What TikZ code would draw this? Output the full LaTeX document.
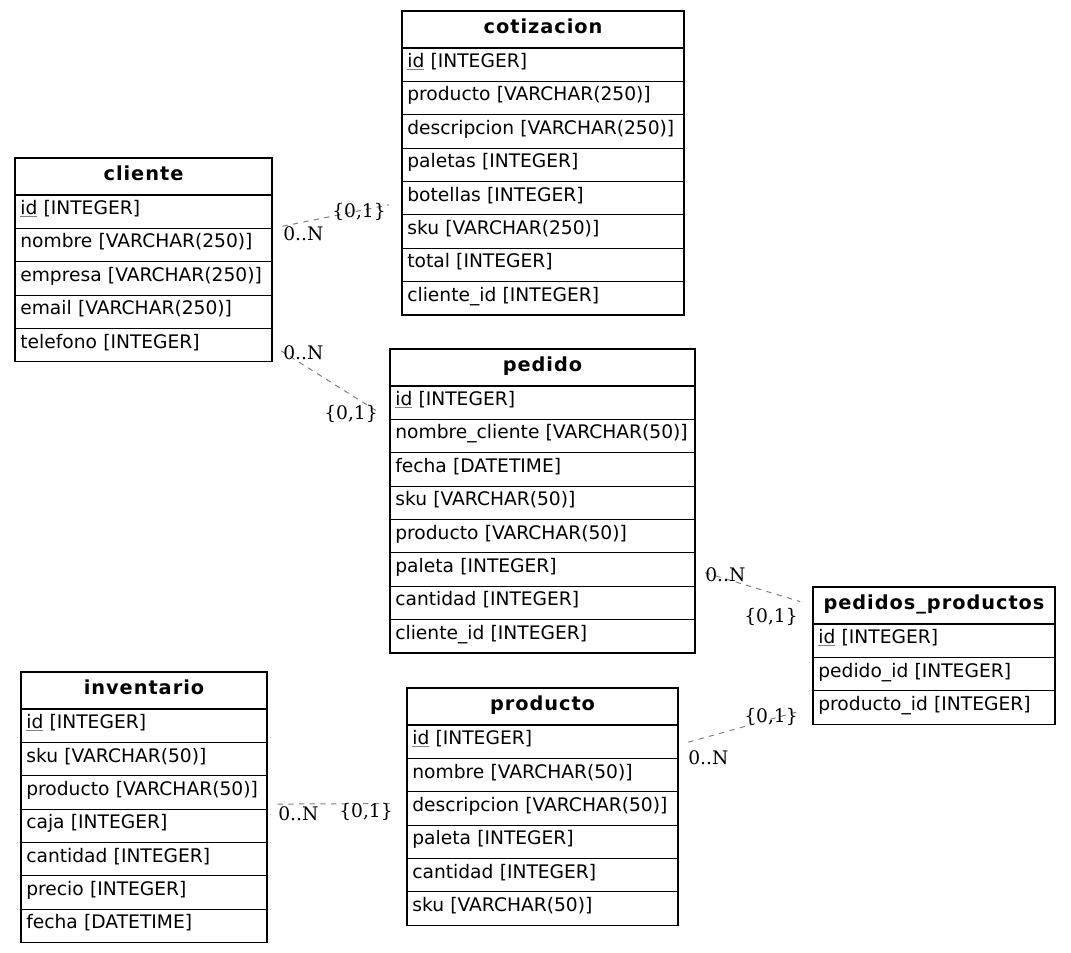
\documentclass[tikz,border=0pt]{standalone}
\usepackage{fontspec}
\setmainfont{DejaVu Sans}
\newfontfamily\cardfont{DejaVu Serif}
\newfontfamily\headfont{DejaVu Sans}[LetterSpace=5]
\usetikzlibrary{calc}

\newcommand{\pk}[1]{\textcolor{gray}{\underline{\textcolor{black}{#1}}}}

\tikzset{
	tabhead/.style={draw, line width=0.9pt, anchor=north west, outer sep=0pt, minimum height=27.75pt, inner sep=0pt, text height=10.6pt, text depth=4.9pt, font=\headfont\fontsize{14.5pt}{16pt}\selectfont\bfseries},
	tabrow/.style={draw, line width=0.9pt, anchor=north west, outer sep=0pt, text width=#1, align=left, minimum height=25.03pt, inner xsep=4pt, inner ysep=0pt, text height=10.6pt, text depth=6.2pt, font=\fontsize{14pt}{16pt}\selectfont},
	relline/.style={gray, line width=0.75pt, dash pattern=on 4pt off 4pt, shorten <=8pt, shorten >=10pt},
	card/.style={inner sep=0pt, font=\cardfont\fontsize{14pt}{16pt}\selectfont}
}

\begin{document}
\begin{tikzpicture}[x=0.75pt, y=-0.75pt]
		\useasboundingbox (0,0) rectangle (1071,953);
		
		% cotizacion table
		\node[tabhead, minimum width=211.5pt] (cotizacion) at (402,11) {cotizacion};
		\foreach \field [count=\i] in {\pk{id} [INTEGER], producto [VARCHAR(250)], descripcion [VARCHAR(250)], paletas [INTEGER], botellas [INTEGER], sku [VARCHAR(250)], total [INTEGER], cliente\_id [INTEGER]}
			\node[tabrow=203.5pt] (cotizacion-\i) at ($(cotizacion.south west)+(0,{(\i-1)*33.375})$) {\mbox{\field}};
		
		% cliente table
		\node[tabhead, minimum width=192.75pt] (cliente) at (15,158) {cliente};
		\foreach \field [count=\i] in {\pk{id} [INTEGER], nombre [VARCHAR(250)], empresa [VARCHAR(250)], email [VARCHAR(250)], telefono [INTEGER]}
			\node[tabrow=184.75pt] (cliente-\i) at ($(cliente.south west)+(0,{(\i-1)*33.375})$) {\mbox{\field}};
		
		% pedido table
		\node[tabhead, minimum width=228.75pt] (pedido) at (390,349) {pedido};
		\foreach \field [count=\i] in {\pk{id} [INTEGER], nombre\_cliente [VARCHAR(50)], fecha [DATETIME], sku [VARCHAR(50)], producto [VARCHAR(50)], paleta [INTEGER], cantidad [INTEGER], cliente\_id [INTEGER]}
			\node[tabrow=220.75pt] (pedido-\i) at ($(pedido.south west)+(0,{(\i-1)*33.375})$) {\mbox{\field}};
		
		% pedidos_productos table
		\node[tabhead, minimum width=181.5pt] (pedprod) at (813,587) {pedidos\_productos};
		\foreach \field [count=\i] in {\pk{id} [INTEGER], pedido\_id [INTEGER], producto\_id [INTEGER]}
			\node[tabrow=173.5pt] (pedprod-\i) at ($(pedprod.south west)+(0,{(\i-1)*33.375})$) {\mbox{\field}};
		
		% inventario table
		\node[tabhead, minimum width=184.5pt] (inventario) at (21,672) {inventario};
		\foreach \field [count=\i] in {\pk{id} [INTEGER], sku [VARCHAR(50)], producto [VARCHAR(50)], caja [INTEGER], cantidad [INTEGER], precio [INTEGER], fecha [DATETIME]}
			\node[tabrow=176.5pt] (inventario-\i) at ($(inventario.south west)+(0,{(\i-1)*33.375})$) {\mbox{\field}};
		
		% producto table
		\node[tabhead, minimum width=203.25pt] (producto) at (407,688) {producto};
		\foreach \field [count=\i] in {\pk{id} [INTEGER], nombre [VARCHAR(50)], descripcion [VARCHAR(50)], paleta [INTEGER], cantidad [INTEGER], sku [VARCHAR(50)]}
			\node[tabrow=195.25pt] (producto-\i) at ($(producto.south west)+(0,{(\i-1)*33.375})$) {\mbox{\field}};
		
		% cliente -- cotizacion
		\draw[relline] (cliente-1.south east) -- ([yshift=-3pt]cotizacion-5.west);
		\node[card, anchor=north west, xshift=8.25pt, yshift=1.5pt] (card-cc-n) at (cliente-1.south east) {0..N};
		\node[card, anchor=north east, xshift=-12pt, yshift=-3.4pt] (card-cc-1) at (cotizacion-5.west) {\{0,1\}};
		
		% cliente -- pedido
		\draw[relline] (cliente-5.east) -- (pedido-1.south west);
		\node[card, anchor=north west, xshift=8.25pt, yshift=-0.4pt] (card-cp-n) at (cliente-5.east) {0..N};
		\node[card, anchor=north east, xshift=-9pt, yshift=10.5pt] (card-cp-1) at (pedido-1.south west) {\{0,1\}};
		
		% pedido -- pedidos_productos
		\draw[relline] (pedido-6.east) -- (pedprod.west);
		\node[card, anchor=north west, xshift=7.5pt, yshift=2pt] (card-pp-n) at (pedido-6.east) {0..N};
		\node[card, anchor=north east, xshift=-11.25pt, yshift=-1.9pt] (card-pp-1) at (pedprod.west) {\{0,1\}};
		
		% producto -- pedidos_productos
		\draw[relline] ([yshift=-2.5pt]producto-1.east) -- (pedprod-3.west);
		\node[card, anchor=north west, xshift=7.5pt, yshift=-6.4pt] (card-rp-n) at (producto-1.east) {0..N};
		\node[card, anchor=north east, xshift=-11.25pt, yshift=-0.75pt] (card-rp-1) at (pedprod-3.west) {\{0,1\}};
		
		% inventario -- producto
		\draw[relline] ([yshift=3.75pt]inventario-3.south east) -- ([yshift=3.75pt]producto-3.west);
		\node[card, anchor=north west, xshift=8.25pt, yshift=2.25pt] (card-ip-n) at (inventario-3.south east) {0..N};
		\node[card, anchor=north east, xshift=-10.5pt, yshift=4.1pt] (card-ip-1) at (producto-3.west) {\{0,1\}};
		
	\end{tikzpicture}
\end{document}
